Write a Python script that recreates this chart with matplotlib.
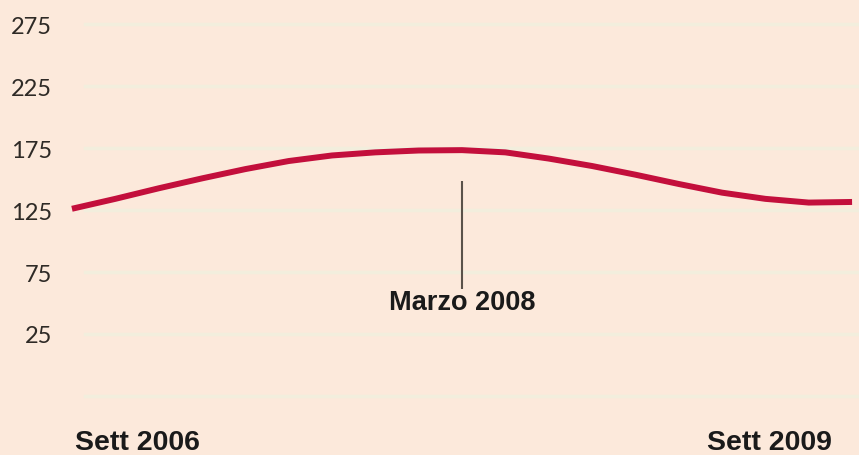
import matplotlib.pyplot as plt

# months since Sett 2006, index values
months = [0, 2, 4, 6, 8, 10, 12, 14, 16, 18, 20, 22, 24, 26, 28, 30, 32, 34, 36]
values = [126, 134, 142.5, 150.5, 158, 164.5, 169, 171.5, 173, 173.3, 171.5,
          166.5, 160.5, 153.5, 146, 139, 134, 131, 131.5]

y_ticks = [275, 225, 175, 125, 75, 25]
grid_levels = [275, 225, 175, 125, 75, 25, -25]
start_label = "Sett 2006"
end_label = "Sett 2009"
marker_month = 18
marker_label = "Marzo 2008"

bg = "#FCE9DB"
line_color = "#C30F3C"

fig = plt.figure(figsize=(8.59, 4.56), dpi=100, facecolor=bg)
ax = fig.add_axes([0, 0, 1, 1], facecolor=bg)
ax.set_xlim(-3.32, 36.32)
ax.set_ylim(-72.6, 295.2)

# faint horizontal guides
for g in grid_levels:
    ax.axhline(g, xmin=0.099, xmax=1, color="#F2EEDD", lw=2.5, zorder=1)

ax.plot(months, values, color=line_color, lw=4.3, solid_capstyle="butt",
        solid_joinstyle="round", zorder=3)

# marker for March 2008
ax.vlines(marker_month, 61, 148.5, color="#5A524A", lw=1.5, zorder=2)
ax.text(marker_month, 50.8, marker_label, ha="center", va="center",
        fontsize=19.5, fontweight="bold", family="Liberation Sans", color="#1A1A1A")

# y tick labels drawn inside the figure
ax.set_yticks(y_ticks)
ax.set_yticklabels([str(t) for t in y_ticks])
ax.tick_params(axis="y", length=0, pad=-37.4, labelsize=17, labelcolor="#2E2A26")
for lab in ax.get_yticklabels():
    lab.set_family("Lato")
ax.set_xticks([])
for s in ax.spines.values():
    s.set_visible(False)

ax.text(0.14, -62, start_label, ha="left", va="center", fontsize=20.5,
        fontweight="bold", family="Liberation Sans", color="#1A1A1A")
ax.annotate(end_label, xy=(36, -62), xytext=(-14.4, 0), textcoords="offset points",
            ha="right", va="center", fontsize=20.5, fontweight="bold",
            family="Liberation Sans", color="#1A1A1A")

fig.savefig("out.png", dpi=100, facecolor=bg)
